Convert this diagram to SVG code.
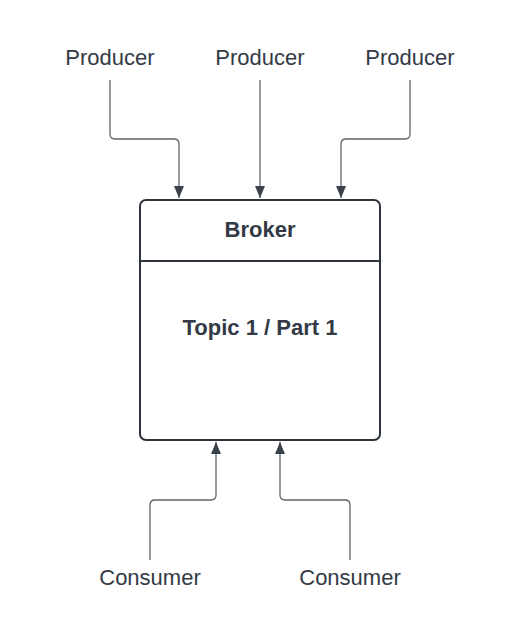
<svg xmlns="http://www.w3.org/2000/svg" width="520" height="640" viewBox="0 0 520 640">
<style>
.lbl{font-family:"Liberation Sans",Arial,sans-serif;font-size:22px;fill:#333a45;text-anchor:middle}
.b{font-family:"Liberation Sans",Arial,sans-serif;font-size:22px;font-weight:bold;fill:#333a45;text-anchor:middle}
.c{fill:none;stroke:#5e646c;stroke-width:1.3}
</style>
<defs>
<marker id="ah" viewBox="0 0 12 10" refX="12" refY="5" markerWidth="12" markerHeight="10" markerUnits="userSpaceOnUse" orient="auto">
<path d="M0,0 L12,5 L0,10 Z" fill="#3a414a"/>
</marker>
</defs>
<rect width="520" height="640" fill="#fff"/>
<g id="producer1"><text class="lbl" x="110" y="65">Producer</text></g>
<g id="producer2"><text class="lbl" x="260" y="65">Producer</text></g>
<g id="producer3"><text class="lbl" x="410" y="65">Producer</text></g>
<g id="broker">
<rect x="140" y="200" width="240" height="240" rx="6" fill="#fff" stroke="#2d333b" stroke-width="2"/>
<line x1="140" y1="261" x2="380" y2="261" stroke="#2d333b" stroke-width="2"/>
<text class="b" x="260" y="237">Broker</text>
<text class="b" x="260" y="335">Topic 1 / Part 1</text>
</g>
<g id="consumer1"><text class="lbl" x="150" y="585">Consumer</text></g>
<g id="consumer2"><text class="lbl" x="350" y="585">Consumer</text></g>
<g id="connectors">
<path class="c" d="M110,80 V134 Q110,139 115,139 H174 Q179,139 179,144 V198" marker-end="url(#ah)"/>
<path class="c" d="M260,80 V198" marker-end="url(#ah)"/>
<path class="c" d="M410,80 V134 Q410,139 405,139 H346 Q341,139 341,144 V198" marker-end="url(#ah)"/>
<path class="c" d="M150,560 V505 Q150,500 155,500 H211 Q216,500 216,495 V442" marker-end="url(#ah)"/>
<path class="c" d="M350,560 V505 Q350,500 345,500 H285 Q280,500 280,495 V442" marker-end="url(#ah)"/>
</g>
</svg>
